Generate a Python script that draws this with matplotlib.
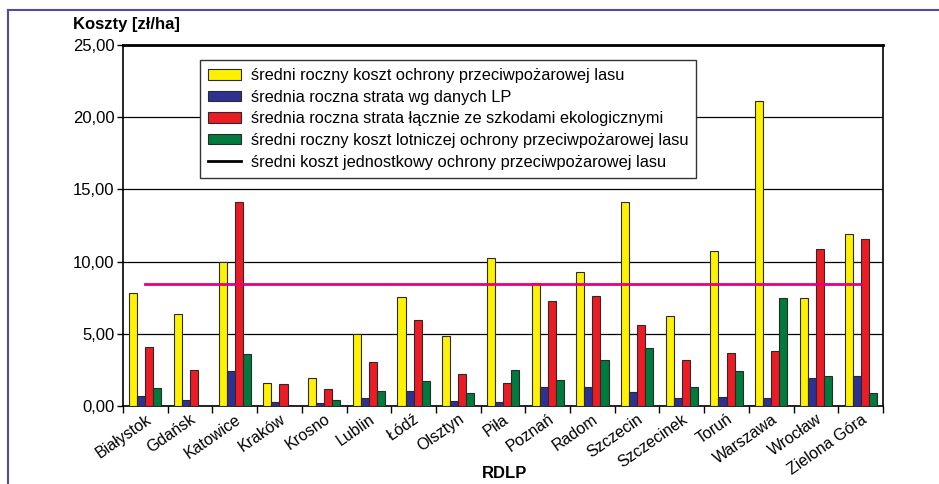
import matplotlib
matplotlib.use('Agg')
import matplotlib.pyplot as plt
import numpy as np
from matplotlib.patches import Patch
from matplotlib.lines import Line2D

plt.rcParams['font.family'] = ['Liberation Sans', 'DejaVu Sans']

rdlp = ['Białystok', 'Gdańsk', 'Katowice', 'Kraków', 'Krosno', 'Lublin', 'Łódź',
        'Olsztyn', 'Piła', 'Poznań', 'Radom', 'Szczecin', 'Szczecinek', 'Toruń',
        'Warszawa', 'Wrocław', 'Zielona Góra']
koszt_ochrony = [7.8, 6.35, 10.0, 1.6, 1.95, 5.0, 7.55, 4.85, 10.25, 8.5, 9.3,
                 14.15, 6.2, 10.7, 21.15, 7.45, 11.9]
strata_lp = [0.7, 0.4, 2.45, 0.25, 0.2, 0.55, 1.05, 0.35, 0.25, 1.3, 1.3,
             1.0, 0.55, 0.64, 0.55, 1.94, 2.08]
strata_eko = [4.1, 2.5, 14.1, 1.5, 1.15, 3.05, 5.95, 2.2, 1.6, 7.25, 7.6,
              5.6, 3.18, 3.7, 3.8, 10.87, 11.55]
koszt_lotniczy = [1.25, 0.0, 3.6, 0.0, 0.45, 1.05, 1.75, 0.9, 2.5, 1.8, 3.2,
                  4.0, 1.31, 2.42, 7.45, 2.08, 0.87]
koszt_jednostkowy = 8.47

labels = ['średni roczny koszt ochrony przeciwpożarowej lasu',
          'średnia roczna strata wg danych LP',
          'średnia roczna strata łącznie ze szkodami ekologicznymi',
          'średni roczny koszt lotniczej ochrony przeciwpożarowej lasu',
          'średni koszt jednostkowy ochrony przeciwpożarowej lasu']
colors = ['#FFF200', '#2E3192', '#ED1C24', '#007A3D']

fig = plt.figure(figsize=(9.39, 4.84), dpi=100)
ax = fig.add_axes([123/939, 1-406/484, 760/939, 361/484])

x = np.arange(len(rdlp))
w = 0.18
series = [koszt_ochrony, strata_lp, strata_eko, koszt_lotniczy]
for i, s in enumerate(series):
    ax.bar(x + (i - 1.5) * w, s, w, color=colors[i], edgecolor='#2a2a2a',
           linewidth=0.8, zorder=3)
ax.plot([x[0], x[-1]], [koszt_jednostkowy] * 2, color='#E6007E', lw=2, zorder=4)

ax.set_xlim(-0.5, len(rdlp) - 0.5)
ax.set_ylim(0, 25)
ax.set_yticks(np.arange(0, 26, 5))
ax.yaxis.set_major_formatter(matplotlib.ticker.FuncFormatter(lambda v, p: ('%.2f' % v).replace('.', ',')))
ax.tick_params(axis='y', labelsize=12, length=4, width=1, direction='out', pad=2)
ax.grid(axis='y', color='black', lw=0.9, zorder=0)

ax.set_xticks(x)
ax.set_xticklabels(rdlp, rotation=35, ha='right', rotation_mode='anchor', fontsize=11.5)
ax.tick_params(axis='x', which='major', length=0, pad=4)
ax.set_xticks(np.arange(-0.5, len(rdlp), 1), minor=True)
ax.tick_params(axis='x', which='minor', length=5, width=1, direction='out')

ax.spines['top'].set_linewidth(2)
for sp in ['left', 'bottom', 'right']:
    ax.spines[sp].set_linewidth(1.2)

handles = [Patch(facecolor=c, edgecolor='#2a2a2a', lw=0.8) for c in colors]
handles.append(Line2D([], [], color='black', lw=2))
leg = ax.legend(handles, labels, loc='upper left', bbox_to_anchor=(0.101, 0.958),
                borderaxespad=0, fontsize=11.8, frameon=True, fancybox=False,
                edgecolor='#333333', framealpha=1, borderpad=0.5, labelspacing=0.4,
                handlelength=2.0, handleheight=0.6, handletextpad=0.6)
leg.get_frame().set_linewidth(1)
leg.set_zorder(5)

fig.text(73/939, 1-25/484, 'Koszty [zł/ha]', fontsize=12, fontweight='bold', va='center')
fig.text(505/939, 1-474/484, 'RDLP', fontsize=12, fontweight='bold', ha='center', va='center')

fig.add_artist(Line2D([8/939, 8/939], [0, 1-10/484], color='#4B4BA8', lw=1.5))
fig.add_artist(Line2D([8/939, 1], [1-10/484, 1-10/484], color='#4B4BA8', lw=1.5))

fig.savefig('out.png', dpi=100)
